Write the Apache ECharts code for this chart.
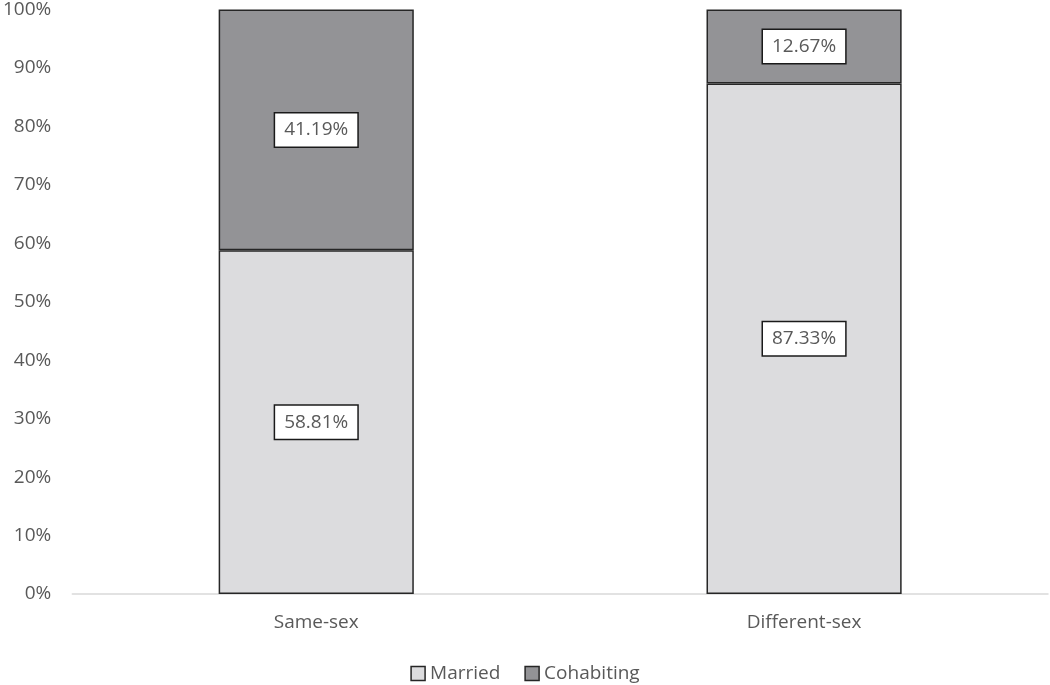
<!DOCTYPE html>
<html>
<head>
<meta charset="utf-8">
<script src="https://cdn.jsdelivr.net/npm/echarts@6/dist/echarts.min.js"></script>
<style>html,body{margin:0;padding:0;background:#fff;}#c{width:1050px;height:685px;}</style>
</head>
<body>
<div id="c"></div>
<script>
var categories = ['Same-sex', 'Different-sex'];
var married = [58.81, 87.33];
var cohabiting = [41.19, 12.67];
var yTicks = [0, 10, 20, 30, 40, 50, 60, 70, 80, 90, 100];

var chart = echarts.init(document.getElementById('c'));
var font = '"Open Sans", "Noto Sans", sans-serif';
var labelCfg = {
  show: true,
  position: 'inside',
  formatter: function (p) { return p.value.toFixed(2) + '%'; },
  backgroundColor: '#fff',
  borderColor: '#1a1a1a',
  borderWidth: 1.5,
  padding: [8, 9, 6, 9],
  color: '#595959',
  fontSize: 19,
  fontFamily: font
};
chart.setOption({
  animation: false,
  grid: { left: 70, right: 2, top: 8, bottom: 91 },
  legend: {
    left: 'center',
    top: 659,
    itemWidth: 14,
    itemHeight: 14,
    itemGap: 24,
    textStyle: { color: '#595959', fontSize: 19, fontFamily: font },
    data: [
      { name: 'Married', icon: 'rect', itemStyle: { borderColor: '#262626', borderWidth: 1.5 } },
      { name: 'Cohabiting', icon: 'rect', itemStyle: { borderColor: '#262626', borderWidth: 1.5 } }
    ]
  },
  xAxis: {
    type: 'category',
    data: categories,
    axisLine: { lineStyle: { color: '#d9d9d9', width: 1.5 } },
    axisTick: { show: false },
    axisLabel: { color: '#595959', fontSize: 19, fontFamily: font, margin: 19 }
  },
  yAxis: {
    type: 'value',
    min: 0,
    max: 100,
    interval: 10,
    splitLine: { show: false },
    axisLine: { show: false },
    axisTick: { show: false },
    axisLabel: {
      color: '#595959', fontSize: 19, fontFamily: font, margin: 21,
      formatter: function (v) { return yTicks.indexOf(v) >= 0 ? v + '%' : ''; }
    }
  },
  series: [
    {
      name: 'Married', type: 'bar', stack: 'a', data: married, barWidth: '40%',
      itemStyle: { color: '#dcdcde', borderColor: '#262626', borderWidth: 1.5 },
      label: labelCfg
    },
    {
      name: 'Cohabiting', type: 'bar', stack: 'a', data: cohabiting, barWidth: '40%',
      itemStyle: { color: '#939396', borderColor: '#262626', borderWidth: 1.5 },
      label: labelCfg
    }
  ]
});
</script>
</body>
</html>
